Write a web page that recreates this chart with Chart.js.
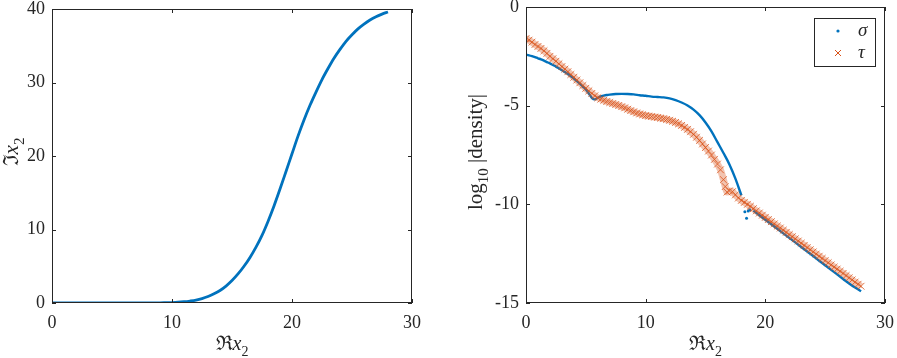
<!DOCTYPE html>
<html>
<head>
<meta charset="utf-8">
<script src="https://cdn.jsdelivr.net/npm/chart.js@4.4.1/dist/chart.umd.min.js"></script>
<style>
  body { margin: 0; background: #fff; }
  #wrap { position: relative; width: 897px; height: 358px; }
  canvas { position: absolute; top: 0; }
</style>
</head>
<body>
<div id="wrap">
  <canvas id="leftChart" width="450" height="358" style="left:0"></canvas>
  <canvas id="rightChart" width="447" height="358" style="left:450px"></canvas>
</div>
<script>
// left panel: Im x2 against Re x2
const imX = [0, 1, 2, 3, 4, 5, 6, 7, 8, 8.5, 9, 9.5, 10, 10.5, 11, 11.5, 12, 12.5, 13, 13.5, 14, 14.5, 15, 15.5, 16, 16.5, 17, 17.5, 18, 18.5, 19, 19.5, 20, 20.5, 21, 21.5, 22, 22.5, 23, 23.5, 24, 24.5, 25, 25.5, 26, 26.5, 27, 27.5, 28];
const imY = [0, 0, 0, 0, 0, 0, 0, 0, 0.01, 0.01, 0.02, 0.04, 0.06, 0.1, 0.17, 0.27, 0.4, 0.6, 0.88, 1.25, 1.7, 2.3, 3.05, 3.95, 5.0, 6.2, 7.6, 9.2, 11.1, 13.2, 15.5, 17.9, 20.3, 22.7, 24.9, 26.9, 28.7, 30.4, 31.9, 33.3, 34.5, 35.6, 36.5, 37.3, 37.95, 38.5, 38.95, 39.3, 39.6];

// right panel: log10 |density|, sigma (null = break in the curve)
const sigmaX = [0, 0.25, 0.5, 0.75, 1, 1.25, 1.5, 1.75, 2, 2.25, 2.5, 2.75, 3, 3.25, 3.5, 3.75, 4, 4.25, 4.5, 4.75, 5, 5.25, 5.5, 5.75, 6, 6.25, 6.5, 6.75, 7, 7.5, 8, 8.5, 9, 9.5, 10, 10.5, 11, 11.5, 12, 12.5, 13, 13.5, 14, 14.5, 15, 15.5, 16, 16.5, 17, 17.5, 18, 18.5, 19, 19.5, 20, 20.5, 21, 21.5, 22, 22.5, 23, 23.5, 24, 24.5, 25, 25.5, 26, 26.5, 27, 27.5, 28];
const sigmaY = [-2.42, -2.45, -2.49, -2.54, -2.6, -2.65, -2.72, -2.79, -2.86, -2.94, -3.02, -3.11, -3.2, -3.3, -3.4, -3.51, -3.62, -3.75, -3.88, -4.03, -4.18, -4.38, -4.6, -4.68, -4.6, -4.53, -4.49, -4.46, -4.44, -4.41, -4.4, -4.41, -4.43, -4.47, -4.5, -4.54, -4.56, -4.58, -4.63, -4.72, -4.84, -4.99, -5.2, -5.48, -5.85, -6.3, -6.85, -7.4, -7.98, -8.7, -9.55, null, -10.32, -10.55, -10.78, -11.01, -11.24, -11.47, -11.7, -11.93, -12.16, -12.39, -12.62, -12.86, -13.09, -13.32, -13.55, -13.78, -14.01, -14.22, -14.4];
const strayX = [18.29, 18.43, 18.57, 18.7];
const strayY = [-10.37, -10.7, -10.34, -10.28];

// tau
const tauX = [0, 0.25, 0.5, 0.75, 1, 1.25, 1.5, 1.75, 2, 2.25, 2.5, 2.75, 3, 3.25, 3.5, 3.75, 4, 4.25, 4.5, 4.75, 5, 5.25, 5.5, 5.75, 6, 6.25, 6.5, 6.75, 7, 7.25, 7.5, 7.75, 8, 8.25, 8.5, 8.75, 9, 9.25, 9.5, 9.75, 10, 10.25, 10.5, 10.75, 11, 11.25, 11.5, 11.75, 12, 12.25, 12.5, 12.75, 13, 13.25, 13.5, 13.75, 14, 14.25, 14.5, 14.75, 15, 15.25, 15.5, 15.75, 16, 16.25, 16.5, 16.65, 16.8, 17, 17.25, 17.5, 17.75, 18, 18.25, 18.5, 18.75, 19, 19.25, 19.5, 19.75, 20, 20.25, 20.5, 20.75, 21, 21.25, 21.5, 21.75, 22, 22.25, 22.5, 22.75, 23, 23.25, 23.5, 23.75, 24, 24.25, 24.5, 24.75, 25, 25.25, 25.5, 25.75, 26, 26.25, 26.5, 26.75, 27, 27.25, 27.5, 27.75, 28];
const tauY = [-1.6, -1.68, -1.78, -1.9, -2.0, -2.1, -2.22, -2.35, -2.5, -2.62, -2.75, -2.88, -3.02, -3.15, -3.28, -3.42, -3.56, -3.7, -3.84, -3.98, -4.12, -4.25, -4.38, -4.5, -4.6, -4.67, -4.73, -4.79, -4.84, -4.89, -4.94, -4.99, -5.05, -5.11, -5.18, -5.25, -5.31, -5.37, -5.42, -5.46, -5.5, -5.53, -5.55, -5.58, -5.6, -5.63, -5.66, -5.7, -5.74, -5.79, -5.85, -5.92, -6.0, -6.1, -6.2, -6.32, -6.45, -6.6, -6.76, -6.94, -7.12, -7.3, -7.5, -7.72, -7.96, -8.25, -8.75, -9.1, -9.38, -9.32, -9.36, -9.52, -9.68, -9.8, -9.9, -10.0, -10.1, -10.22, -10.33, -10.44, -10.55, -10.66, -10.77, -10.88, -10.99, -11.1, -11.2, -11.31, -11.42, -11.53, -11.64, -11.75, -11.86, -11.97, -12.08, -12.19, -12.3, -12.41, -12.52, -12.63, -12.74, -12.85, -12.96, -13.07, -13.18, -13.28, -13.39, -13.5, -13.61, -13.72, -13.83, -13.94, -14.05, -14.15];

const xTicks = [0, 10, 20, 30];
const imTicks = [0, 10, 20, 30, 40];
const logTicks = [-15, -10, -5, 0];

const BLUE = '#0072BD';
const ORANGE = '#D95319';
const INK = '#262626';
const SERIF = "'Liberation Serif', 'Times New Roman', serif";

const pts = (xs, ys) => xs.map((x, i) => ({ x: x, y: ys[i] }));

// text with italic / subscript pieces, centred on 0
function drawRich(ctx, segs, size) {
  const fontOf = s => (s.it ? 'italic ' : '') + (s.sub ? Math.round(size * 0.7) : size) + 'px ' + SERIF;
  let total = 0;
  segs.forEach(s => { ctx.font = fontOf(s); total += ctx.measureText(s.t).width; });
  let x = -total / 2;
  segs.forEach(s => {
    ctx.font = fontOf(s);
    ctx.fillText(s.t, x, s.sub ? size * 0.3 : 0);
    x += ctx.measureText(s.t).width;
  });
}

const matlabAxes = {
  id: 'matlabAxes',
  afterDraw(chart, args, opts) {
    const { ctx, chartArea: a } = chart;
    const xs = chart.scales.x, ys = chart.scales.y;
    ctx.save();
    ctx.strokeStyle = INK;
    ctx.lineWidth = 1;
    ctx.strokeRect(a.left + 0.5, a.top + 0.5, a.right - a.left - 1, a.bottom - a.top - 1);
    ctx.beginPath();
    xs.ticks.forEach(t => {
      const px = Math.round(xs.getPixelForValue(t.value)) + 0.5;
      ctx.moveTo(px, a.bottom); ctx.lineTo(px, a.bottom - 4);
      ctx.moveTo(px, a.top); ctx.lineTo(px, a.top + 4);
    });
    ys.ticks.forEach(t => {
      const py = Math.round(ys.getPixelForValue(t.value)) + 0.5;
      ctx.moveTo(a.left, py); ctx.lineTo(a.left + 4, py);
      ctx.moveTo(a.right, py); ctx.lineTo(a.right - 4, py);
    });
    ctx.stroke();

    ctx.fillStyle = INK;
    ctx.textBaseline = 'alphabetic';
    ctx.textAlign = 'left';
    ctx.save();
    ctx.translate((a.left + a.right) / 2, 350);
    drawRich(ctx, opts.xTitle, 20);
    ctx.restore();
    ctx.save();
    ctx.translate(opts.yTitleX, opts.yTitleY);
    ctx.rotate(-Math.PI / 2);
    drawRich(ctx, opts.yTitle, 21);
    ctx.restore();

    if (opts.legend) {
      const bx = a.right - 71, by = a.top + 11, bw = 61, bh = 48;
      ctx.fillStyle = '#fff';
      ctx.fillRect(bx, by, bw, bh);
      ctx.strokeStyle = INK;
      ctx.strokeRect(bx + 0.5, by + 0.5, bw, bh);
      ctx.fillStyle = BLUE;
      ctx.beginPath();
      ctx.arc(bx + 24, by + 13, 1.6, 0, Math.PI * 2);
      ctx.fill();
      ctx.strokeStyle = ORANGE;
      ctx.beginPath();
      ctx.moveTo(bx + 21, by + 32); ctx.lineTo(bx + 27, by + 38);
      ctx.moveTo(bx + 27, by + 32); ctx.lineTo(bx + 21, by + 38);
      ctx.stroke();
      ctx.fillStyle = INK;
      ctx.font = 'italic 19px ' + SERIF;
      ctx.fillText('σ', bx + 44, by + 18);
      ctx.fillText('τ', bx + 44, by + 40);
    }
    ctx.restore();
  }
};

function axisOptions(min, max, width) {
  return {
    x: {
      type: 'linear', min: 0, max: 30,
      afterBuildTicks: s => { s.ticks = xTicks.map(v => ({ value: v })); },
      afterFit: s => { s.height = 55; s.paddingLeft = 0; s.paddingRight = 0; },
      grid: { display: false, drawTicks: false, tickLength: 0 }, border: { display: false },
      ticks: { color: INK, padding: 9, maxRotation: 0, font: { family: SERIF, size: 18 } }
    },
    y: {
      type: 'linear', min: min, max: max,
      afterBuildTicks: s => { s.ticks = (min < 0 ? logTicks : imTicks).map(v => ({ value: v })); },
      afterFit: s => { s.width = width; s.paddingTop = 0; s.paddingBottom = 0; },
      grid: { display: false, drawTicks: false, tickLength: 0 }, border: { display: false },
      ticks: { color: INK, padding: 7, font: { family: SERIF, size: 18 } }
    }
  };
}

new Chart(document.getElementById('leftChart'), {
  type: 'scatter',
  data: {
    datasets: [{
      data: pts(imX, imY),
      showLine: true,
      borderColor: BLUE,
      borderWidth: 2.8,
      pointRadius: 0,
      cubicInterpolationMode: 'monotone'
    }]
  },
  options: {
    responsive: false,
    animation: false,
    layout: { padding: { top: 9, right: 38, left: 0, bottom: 0 } },
    scales: axisOptions(0, 40, 52),
    plugins: {
      legend: { display: false },
      tooltip: { enabled: false },
      matlabAxes: {
        xTitle: [{ t: 'ℜ' }, { t: 'x', it: true }, { t: '2', sub: true }],
        yTitle: [{ t: 'ℑ' }, { t: 'x', it: true }, { t: '2', sub: true }],
        yTitleX: 18, yTitleY: 152
      }
    }
  },
  plugins: [matlabAxes]
});

new Chart(document.getElementById('rightChart'), {
  type: 'scatter',
  data: {
    datasets: [
      {
        label: 'τ',
        data: pts(tauX, tauY),
        order: 0,
        showLine: true,
        borderColor: 'rgba(217, 83, 25, 0.35)',
        borderWidth: 7,
        pointStyle: 'crossRot',
        pointRadius: 4.8,
        pointBorderColor: ORANGE,
        pointBorderWidth: 0.8,
        cubicInterpolationMode: 'monotone'
      },
      {
        label: 'σ',
        data: pts(sigmaX, sigmaY),
        order: 1,
        showLine: true,
        spanGaps: false,
        borderColor: BLUE,
        borderWidth: 2.4,
        pointRadius: 0,
        cubicInterpolationMode: 'monotone'
      },
      {
        label: 'σ stray',
        data: pts(strayX, strayY),
        order: 1,
        pointRadius: 1.5,
        backgroundColor: BLUE,
        borderWidth: 0
      }
    ]
  },
  options: {
    responsive: false,
    animation: false,
    layout: { padding: { top: 7, right: 12, left: 0, bottom: 0 } },
    scales: axisOptions(-15, 0, 76),
    plugins: {
      legend: { display: false },
      tooltip: { enabled: false },
      matlabAxes: {
        xTitle: [{ t: 'ℜ' }, { t: 'x', it: true }, { t: '2', sub: true }],
        yTitle: [{ t: 'log' }, { t: '10', sub: true }, { t: ' |density|' }],
        yTitleX: 32, yTitleY: 152,
        legend: true
      }
    }
  },
  plugins: [matlabAxes]
});
</script>
</body>
</html>
